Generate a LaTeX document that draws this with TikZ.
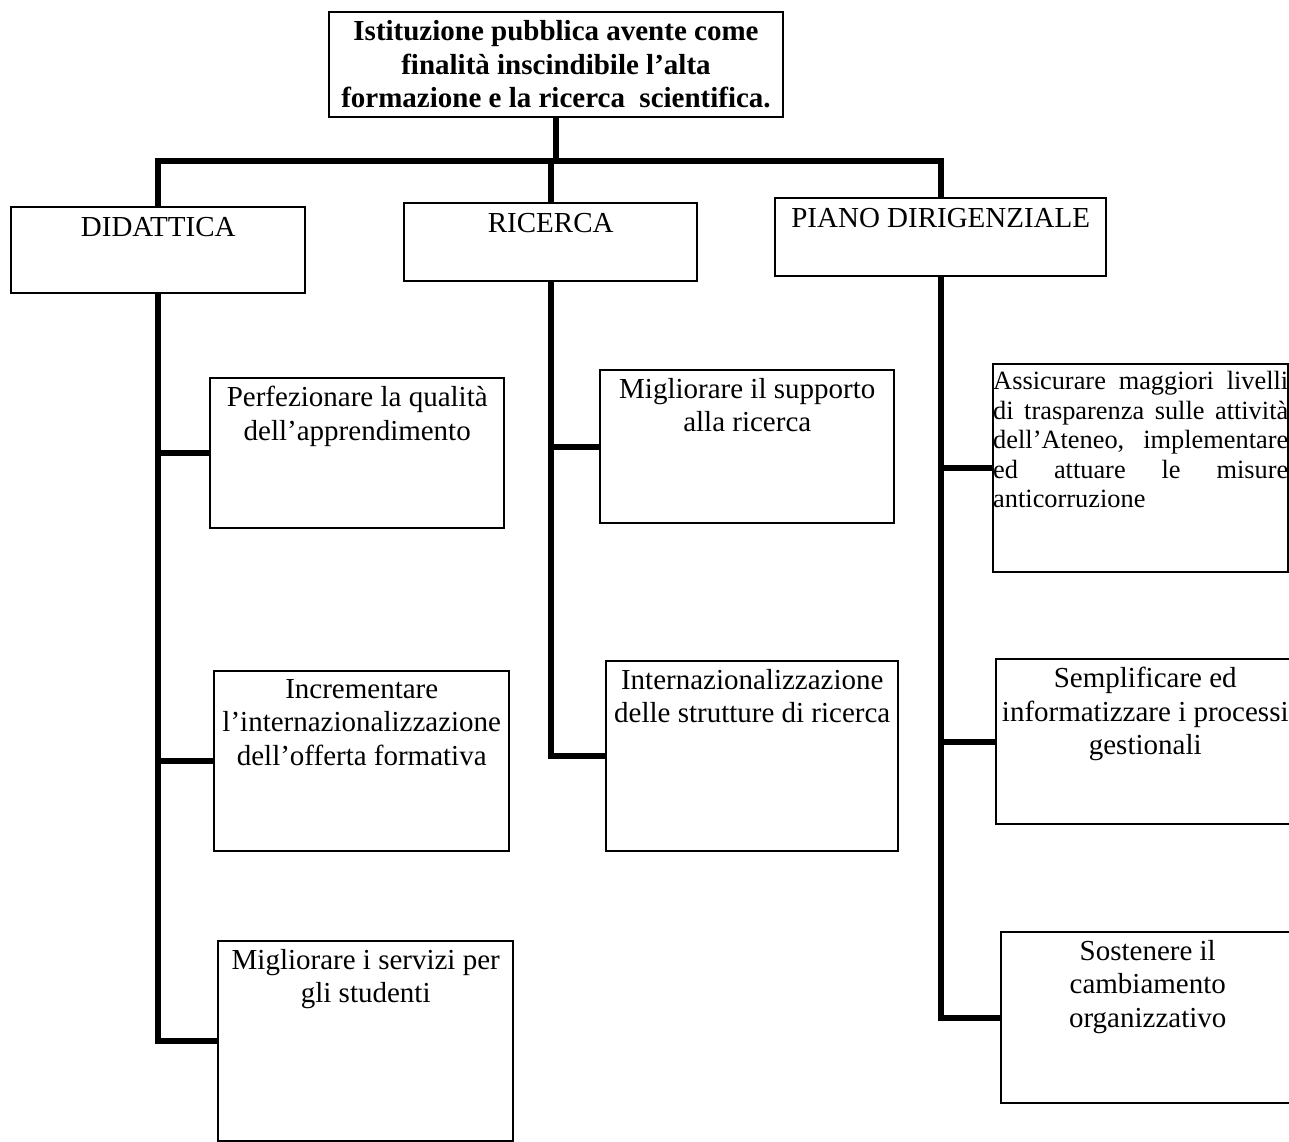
\documentclass[tikz,border=0pt]{standalone}
\usepackage{fontspec}
\setmainfont{Liberation Serif}
\begin{document}
\begin{tikzpicture}[x=0.2mm,y=-0.2mm,
    box/.style={draw,line width=1.4pt,anchor=north west,inner sep=0pt},
    head/.style={anchor=north,align=center,inner sep=0pt,yshift=-0.22cm,font=\fontsize{16.5}{19}\selectfont},
    txt/.style={anchor=north,align=center,inner sep=0pt,yshift=-0.18cm,font=\fontsize{16.5}{19}\selectfont},
    just/.style={anchor=north,align=justify,text width=5.9cm,inner sep=0pt,yshift=-0.16cm,font=\fontsize{15}{16.8}\selectfont},
    link/.style={line width=3.6pt}]
\useasboundingbox (0,0) rectangle (1289,1142);

\node[draw,line width=1.6pt,minimum width=9.08cm,minimum height=2.1cm,align=center,inner sep=0pt,
    font=\bfseries\fontsize{16.5}{19}\selectfont] (top) at (556,64.5)
    {Istituzione pubblica avente come\\finalità inscindibile l’alta\\formazione e la ricerca~ scientifica.};

\node[box,minimum width=5.88cm,minimum height=1.72cm,label={[head]north:DIDATTICA}] (did) at (10,206) {};
\node[box,minimum width=5.86cm,minimum height=1.56cm,label={[head]north:RICERCA}] (ric) at (403,202) {};
\node[box,minimum width=6.62cm,minimum height=1.56cm,label={[head]north:PIANO DIRIGENZIALE}] (pia) at (774,197) {};

\node[box,minimum width=5.88cm,minimum height=3cm,
    label={[txt]north:{Perfezionare la qualità\\dell’apprendimento}}] (did1) at (209,377) {};
\node[box,minimum width=5.9cm,minimum height=3.6cm,
    label={[txt]north:{Incrementare\\l’internazionalizzazione\\dell’offerta formativa}}] (did2) at (213,670) {};
\node[box,minimum width=5.9cm,minimum height=4cm,
    label={[txt]north:{Migliorare i servizi per\\gli studenti}}] (did3) at (217,940) {};

\node[box,minimum width=5.88cm,minimum height=3.06cm,
    label={[txt]north:{Migliorare il supporto\\alla ricerca}}] (ric1) at (599,369) {};
\node[box,minimum width=5.84cm,minimum height=3.8cm,
    label={[txt]north:{Internazionalizzazione\\delle strutture di ricerca}}] (ric2) at (605,660) {};

\node[box,minimum width=5.9cm,minimum height=4.16cm,
    label={[just]north:{\noindent Assicurare maggiori livelli\linebreak di trasparenza sulle attività\linebreak dell’Ateneo, implementare\linebreak ed attuare le misure\linebreak anticorruzione}}] (pia1) at (992,363) {};
\node[box,minimum width=5.96cm,minimum height=3.3cm,
    label={[txt]north:{Semplificare ed\\informatizzare i processi\\gestionali}}] (pia2) at (995,658) {};
\node[box,minimum width=5.86cm,minimum height=3.42cm,
    label={[txt]north:{Sostenere il\\cambiamento\\organizzativo}}] (pia3) at (1000,931) {};

\coordinate (bus) at (556,161);
\draw[link] (top.south) -- (bus);
\draw[link] (did.north) -- (did.north |- bus) -- (pia.north |- bus) -- (pia.north);
\draw[link] (ric.north) -- (ric.north |- bus);

\draw[link] (did.south) |- (did3.west);
\draw[link] (ric.south) |- (ric2.west);
\draw[link] (pia.south) |- (pia3.west);
\foreach \b in {1,2}{
    \draw[link] (did.south |- did\b.west) -- (did\b.west);
    \draw[link] (pia.south |- pia\b.west) -- (pia\b.west);
}
\draw[link] (ric.south |- ric1.west) -- (ric1.west);
\end{tikzpicture}
\end{document}
